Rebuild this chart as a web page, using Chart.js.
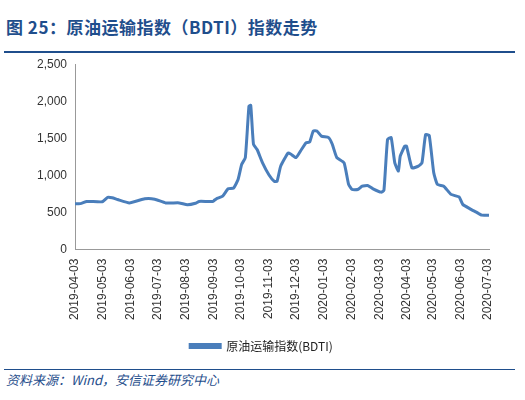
<!DOCTYPE html><html><head><meta charset="utf-8">
<script src="https://cdn.jsdelivr.net/npm/chart.js@4"></script>
<style>body{margin:0;width:525px;height:400px;background:#fff;font-family:"Noto Sans CJK SC",sans-serif;position:relative;overflow:hidden}
#t{position:absolute;left:6px;top:14px;font-size:17px;font-weight:bold;color:#1f4e8c;letter-spacing:0.5px}
#hl{position:absolute;left:4px;right:10px;top:51px;border-top:2px solid #1f4e8c}
#s{position:absolute;left:6px;top:370px;font-size:13px;font-style:italic;color:#1f4e8c}
#bl{position:absolute;left:4px;right:10px;top:369px;border-top:1px solid #1f4e8c}
#c{position:absolute;left:0;top:54px}</style></head><body>
<div id="t">图 25：原油运输指数（BDTI）指数走势</div><div id="hl"></div>
<div id="c"><canvas id="cv" width="515" height="312" style="width:515px;height:312px"></canvas></div>
<div id="bl"></div><div id="s">资料来源：Wind，安信证券研究中心</div>
<script>
const seriesName="原油运输指数(BDTI)";
const dayOffsets=[0,6,13,30,36,41,47,60,77,88,100,115,124,133,137,152,156,163,169,175,180,184,188,192,194,197,201,207,214,220,223,227,235,238,244,250,255,259,263,267,272,280,284,289,297,302,306,312,317,323,329,338,341,345,349,353,357,359,364,366,372,379,383,387,391,396,400,407,415,424,428,436,443,449,457];
const values=[620,620,650,645,705,700,675,630,685,680,630,630,605,625,650,650,685,720,820,830,945,1150,1240,1935,1945,1420,1350,1170,1010,920,920,1125,1300,1290,1240,1350,1440,1450,1600,1600,1530,1510,1420,1240,1170,880,810,810,855,865,820,775,800,1485,1510,1170,1060,1260,1395,1395,1100,1125,1170,1550,1540,1035,880,855,745,710,610,550,505,465,465];
const tickOffsets=[0,30,61,91,122,153,183,214,244,275,305,336,366,395,426,456];
const tickLabels=["2019-04-03","2019-05-03","2019-06-03","2019-07-03","2019-08-03","2019-09-03","2019-10-03","2019-11-03","2019-12-03","2020-01-03","2020-02-03","2020-03-03","2020-04-03","2020-05-03","2020-06-03","2020-07-03"];
const yTicks=[0,500,1000,1500,2000,2500];
new Chart(document.getElementById('cv'),{type:'line',
data:{datasets:[{label:seriesName,data:dayOffsets.map((d,i)=>({x:d,y:values[i]})),borderColor:'#4a7ebb',borderWidth:3,pointRadius:0,tension:0.15}]},
options:{responsive:false,animation:false,layout:{padding:{left:34,right:26,top:6,bottom:4}},
plugins:{legend:{position:'bottom',labels:{boxWidth:30,boxHeight:3,padding:16,font:{size:12,family:'"Noto Sans CJK SC"'},color:'#222'}},tooltip:{enabled:false}},
scales:{x:{type:'linear',min:0,max:457,afterBuildTicks:a=>{a.ticks=tickOffsets.map(v=>({value:v}))},
ticks:{autoSkip:false,maxRotation:90,minRotation:90,color:'#333',font:{size:12},padding:4,callback:(v,i)=>tickLabels[i]},grid:{display:false,drawTicks:true,tickLength:5},border:{color:'#999'}},
y:{min:0,max:2500,afterBuildTicks:a=>{a.ticks=yTicks.map(v=>({value:v}))},ticks:{color:'#333',font:{size:12},callback:v=>v.toLocaleString('en-US')},grid:{display:false,tickLength:5},border:{color:'#999'}}}}});
</script></body></html>
